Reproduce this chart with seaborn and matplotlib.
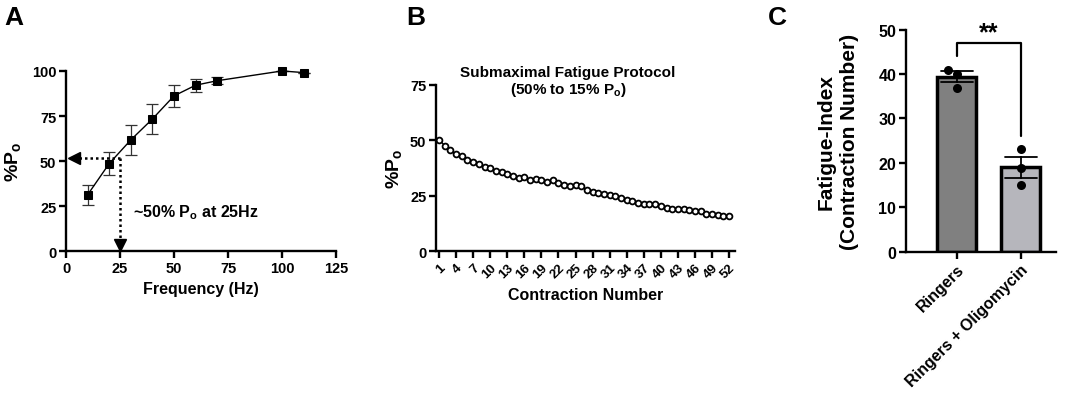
import seaborn as sns
import matplotlib
matplotlib.use("Agg")
import matplotlib.pyplot as plt
import pandas as pd
import numpy as np

# Panel A: force-frequency curve
freq_hz = [10, 20, 30, 40, 50, 60, 70, 100, 110]
force_pct = [31.4, 48.7, 61.8, 73.4, 86.2, 92.1, 94.6, 100.0, 99.1]
force_err = [5.6, 6.5, 8.3, 8.5, 6.2, 3.6, 2.0, 0.0, 0.0]
target_pct = 52
target_hz = 25

# Panel B: submaximal fatigue protocol
contraction = list(range(1, 53))
fatigue_pct = [50.3, 47.6, 45.5, 43.7, 42.7, 41.3, 40.4, 39.1, 38.0, 37.3,
               36.2, 35.6, 34.9, 34.0, 32.9, 33.4, 32.3, 32.6, 32.0, 31.3,
               31.9, 30.8, 29.8, 29.3, 29.9, 29.3, 27.7, 26.8, 26.3, 25.9,
               25.3, 24.8, 23.9, 23.0, 22.6, 21.9, 21.4, 21.1, 21.1, 20.4,
               19.6, 19.2, 18.9, 18.9, 18.4, 18.0, 18.1, 16.9, 16.6, 16.2,
               16.0, 15.9]

# Panel C: fatigue index per muscle
groups = ["Ringers", "Ringers + Oligomycin"]
ringers = [41.0, 40.1, 36.9]
oligomycin = [23.0, 18.9, 15.0]

sns.set_theme(style="ticks")
plt.rcParams["font.family"] = ["Liberation Sans", "DejaVu Sans"]
plt.rcParams["font.weight"] = "bold"
plt.rcParams["axes.labelweight"] = "bold"
plt.rcParams["text.color"] = "black"
plt.rcParams["axes.labelcolor"] = "black"
plt.rcParams["xtick.color"] = "black"
plt.rcParams["ytick.color"] = "black"
plt.rcParams["mathtext.fontset"] = "custom"
plt.rcParams["mathtext.rm"] = "Liberation Sans:bold"
plt.rcParams["mathtext.it"] = "Liberation Sans:bold"
plt.rcParams["mathtext.bf"] = "Liberation Sans:bold"

fig = plt.figure(figsize=(10.65, 4.02), dpi=100)
axA = fig.add_axes([0.062, 0.372, 0.2535, 0.449])
axB = fig.add_axes([0.4094, 0.3724, 0.2808, 0.4144])
axC = fig.add_axes([0.8507, 0.3714, 0.1408, 0.5527])


def style_axis(ax, size=10):
    for s in ["top", "right"]:
        ax.spines[s].set_visible(False)
    for s in ["left", "bottom"]:
        ax.spines[s].set_linewidth(1.7)
        ax.spines[s].set_color("black")
    ax.tick_params(axis="both", length=5, width=1.7, color="black",
                   labelsize=size, labelcolor="black", pad=2)
    for lab in ax.get_xticklabels() + ax.get_yticklabels():
        lab.set_fontweight("bold")


# ---- A ----
dfA = pd.DataFrame({"freq": freq_hz, "force": force_pct})
axA.errorbar(freq_hz, force_pct, yerr=force_err, fmt="none", ecolor="#333333",
             elinewidth=0.9, capsize=4, capthick=0.9, clip_on=False, zorder=2)
sns.lineplot(data=dfA, x="freq", y="force", ax=axA, color="black", lw=1,
             marker="s", markersize=6, markeredgecolor="black", clip_on=False, zorder=3)
axA.plot([target_hz, 3.5], [target_pct, target_pct], ls=(0, (1, 1.2)), color="black", lw=1.8)
axA.plot([target_hz, target_hz], [target_pct, 3.5], ls=(0, (1, 1.2)), color="black", lw=1.8)
axA.plot([3.6], [target_pct], marker="<", ms=9, color="black", clip_on=False)
axA.plot([target_hz], [3.6], marker="v", ms=9, color="black", clip_on=False)
axA.text(31, 22, "~50% P$_\\mathrm{o}$ at 25Hz", fontsize=11.5, fontweight="bold",
         ha="left", va="center")
axA.set_xlim(0, 125)
axA.set_ylim(0, 100)
axA.set_xticks([0, 25, 50, 75, 100, 125])
axA.set_yticks([0, 25, 50, 75, 100])
axA.set_xlabel("Frequency (Hz)", fontsize=11.5, labelpad=4)
axA.set_ylabel("%P$_\\mathrm{o}$", fontsize=14, labelpad=6)
style_axis(axA, 10.5)

# ---- B ----
dfB = pd.DataFrame({"n": contraction, "force": fatigue_pct})
sns.lineplot(data=dfB, x="n", y="force", ax=axB, color="black", lw=1,
             marker="o", markersize=4.2, markerfacecolor="white",
             markeredgecolor="black", markeredgewidth=1.3)
axB.set_xlim(0.47, 53.05)
axB.set_ylim(0, 75)
axB.set_xticks(contraction[::3])
axB.set_yticks([0, 25, 50, 75])
axB.set_xlabel("Contraction Number", fontsize=11.5, labelpad=5)
axB.set_ylabel("%P$_\\mathrm{o}$", fontsize=14, labelpad=4)
axB.text(23.7, 76.5, "Submaximal Fatigue Protocol\n(50% to 15% P$_\\mathrm{o}$)",
         fontsize=11, fontweight="bold", ha="center", va="center", linespacing=1.1)
style_axis(axB, 10.5)
for lab in axB.get_xticklabels():
    lab.set_rotation(45)
    lab.set_ha("right")
    lab.set_rotation_mode("anchor")
    lab.set_fontsize(9.5)

# ---- C ----
dfC = pd.DataFrame({
    "group": [groups[0]] * len(ringers) + [groups[1]] * len(oligomycin),
    "index": ringers + oligomycin,
})
sns.barplot(data=dfC, x="group", y="index", ax=axC, hue="group",
            palette=["#808080", "#b5b5bd"], errorbar="se", width=0.61,
            edgecolor="black", linewidth=2.5, capsize=0.5,
            err_kws={"color": "black", "linewidth": 1.3}, legend=False)
sns.swarmplot(data=dfC, x="group", y="index", ax=axC, color="black", size=6.5)
axC.plot([0, 0, 1, 1], [44.0, 47.0, 47.0, 26.1], color="black", lw=1.6, clip_on=False)
axC.text(0.5, 49.4, "**", fontsize=18, fontweight="bold", ha="center", va="center")
axC.set_xlim(-0.79, 1.55)
axC.set_ylim(0, 50)
axC.set_yticks([0, 10, 20, 30, 40, 50])
axC.set_xlabel("")
axC.set_ylabel("Fatigue-Index\n(Contraction Number)", fontsize=15, labelpad=14,
               linespacing=1.3)
style_axis(axC, 11.5)
for lab in axC.get_xticklabels():
    lab.set_rotation(45)
    lab.set_ha("right")
    lab.set_rotation_mode("anchor")

fig.text(0.004, 0.985, "A", fontsize=19, fontweight="bold", va="top")
fig.text(0.381, 0.985, "B", fontsize=19, fontweight="bold", va="top")
fig.text(0.721, 0.985, "C", fontsize=19, fontweight="bold", va="top")

fig.savefig("out.png", dpi=100)
